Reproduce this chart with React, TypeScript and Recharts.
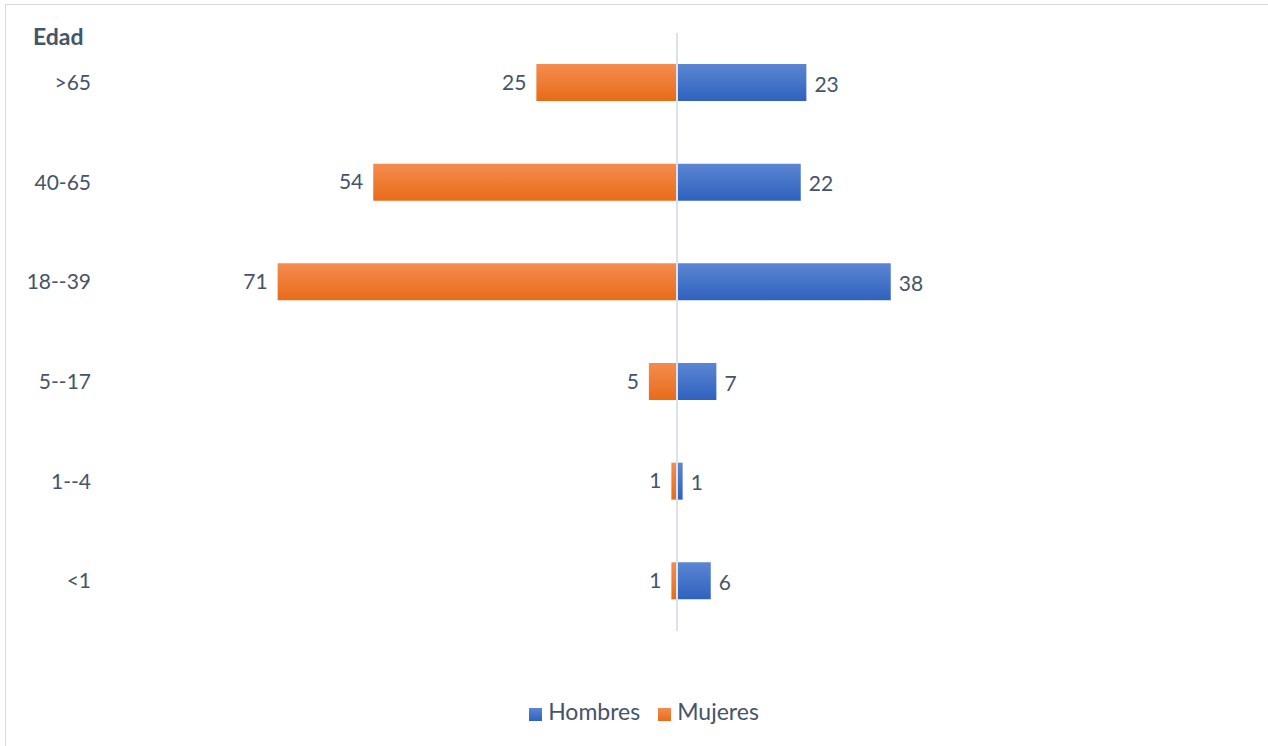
import React from 'react';
import { BarChart, Bar, XAxis, YAxis, ReferenceLine, Legend, LabelList } from 'recharts';

const ageGroups = ['>65', '40-65', '18--39', '5--17', '1--4', '<1'];
const hombres = [23, 22, 38, 7, 1, 6];
const mujeres = [25, 54, 71, 5, 1, 1];

// mujeres go left of the axis, so store them as negatives
const data = ageGroups.map((age, i) => ({
  age,
  Hombres: hombres[i],
  Mujeres: -mujeres[i],
}));

const textColor = '#44546a';
const font = 'Lato, "Noto Sans", sans-serif';

const AgeTick = (props: any) => {
  const { y, payload } = props;
  return (
    <text x={91} y={y} dy={7} textAnchor="end" fill={textColor} fontSize={21} fontFamily={font}>
      {payload.value}
    </text>
  );
};

const leftLabel = (props: any) => {
  const { x, y, width, height, value } = props;
  const edge = Math.min(x, x + width);
  return (
    <text x={edge - 10} y={y + height / 2} dy={7} textAnchor="end" fill={textColor} fontSize={21} fontFamily={font}>
      {Math.abs(value)}
    </text>
  );
};

const rightLabel = (props: any) => {
  const { x, y, width, height, value } = props;
  const edge = Math.max(x, x + width);
  return (
    <text x={edge + 8} y={y + height / 2} dy={9} textAnchor="start" fill={textColor} fontSize={21} fontFamily={font}>
      {value}
    </text>
  );
};

const App: React.FC = () => {
  return (
    <div style={{ position: 'fixed', left: 0, top: 0, width: 1268, height: 746, overflow: 'hidden', background: '#fff' }}>
      <div style={{ position: 'absolute', left: 5, top: 4, width: 1300, height: 800, border: '1px solid #d9d9d9' }} />
      <div
        style={{
          position: 'absolute', left: 33, top: 21, fontFamily: font, fontWeight: 700,
          fontSize: 23, color: textColor, lineHeight: '30px',
        }}
      >
        Edad
      </div>
      <div style={{ position: 'absolute', left: 0, top: 0 }}>
        <BarChart
          width={1268}
          height={746}
          data={data}
          layout="vertical"
          stackOffset="sign"
          barSize={37}
          margin={{ top: 33, right: 141, bottom: 75, left: 0 }}
        >
          <defs>
            <linearGradient id="gradBlue" x1="0" y1="0" x2="0" y2="1">
              <stop offset="0%" stopColor="#5b86d3" />
              <stop offset="100%" stopColor="#2f61be" />
            </linearGradient>
            <linearGradient id="gradOrange" x1="0" y1="0" x2="0" y2="1">
              <stop offset="0%" stopColor="#f48c50" />
              <stop offset="100%" stopColor="#e86b18" />
            </linearGradient>
          </defs>
          <XAxis type="number" domain={[-80, 80]} hide />
          <YAxis
            type="category"
            dataKey="age"
            width={227}
            axisLine={false}
            tickLine={false}
            tick={<AgeTick />}
          />
          <Bar dataKey="Hombres" stackId="a" fill="url(#gradBlue)" isAnimationActive={false}>
            <LabelList dataKey="Hombres" content={rightLabel} />
          </Bar>
          <Bar dataKey="Mujeres" stackId="a" fill="url(#gradOrange)" isAnimationActive={false}>
            <LabelList dataKey="Mujeres" content={leftLabel} />
          </Bar>
          <ReferenceLine x={0} stroke="#dde2e9" strokeWidth={2} />
          <Legend
            verticalAlign="bottom"
            iconType="square"
            iconSize={13}
            height={40}
            wrapperStyle={{
              fontFamily: font, fontSize: 23, left: 0, width: 1268, top: 697, bottom: 'auto',
              paddingLeft: 38, boxSizing: 'border-box',
            }}
            payload={[
              { value: 'Hombres', type: 'square', color: '#3f6fc8' },
              { value: 'Mujeres', type: 'square', color: '#f07b2f' },
            ]}
            formatter={(v: string) => <span style={{ color: textColor, marginLeft: 2, marginRight: 8 }}>{v}</span>}
          />
        </BarChart>
      </div>
    </div>
  );
};

export default App;
